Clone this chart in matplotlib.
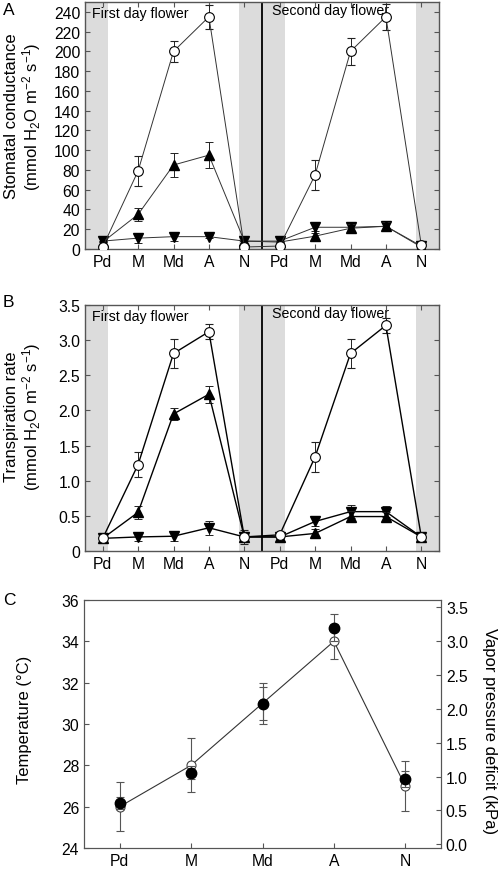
import numpy as np
import matplotlib
matplotlib.use("Agg")
import matplotlib.pyplot as plt

plt.rcParams['font.family'] = ['Liberation Sans', 'DejaVu Sans']
plt.rcParams['mathtext.fontset'] = 'custom'
plt.rcParams['mathtext.rm'] = 'Liberation Sans'
plt.rcParams['mathtext.it'] = 'Liberation Sans:italic'
plt.rcParams['mathtext.bf'] = 'Liberation Sans:bold'
plt.rcParams['mathtext.default'] = 'regular'

# categories (two days of flowering)
times = ['Pd', 'M', 'Md', 'A', 'N', 'Pd', 'M', 'Md', 'A', 'N']

# A: stomatal conductance (mmol H2O m-2 s-1)
gs_open = [2, 79, 200, 235, 2, 3, 75, 200, 235, 4]
gs_open_err = [0, 15, 10.5, 12, 0, 0, 15, 14, 13, 0]
gs_up = [7, 35, 85, 95, 8, 7, 13, 21, 23, 2]
gs_up_err = [0, 7, 12, 13, 0, 0, 3, 4, 4, 0]
gs_down = [8, 11, 12.5, 12.5, 8, 8, 22, 22, 23, 3]
gs_down_err = [0, 5, 4, 1.5, 0, 0, 4, 4, 4, 0]

# B: transpiration rate (mmol H2O m-2 s-1)
tr_open = [0.18, 1.23, 2.81, 3.12, 0.2, 0.23, 1.34, 2.81, 3.21, 0.2]
tr_open_err = [0, 0.18, 0.21, 0.11, 0.1, 0, 0.21, 0.2, 0.11, 0]
tr_up = [0.18, 0.55, 1.95, 2.23, 0.2, 0.2, 0.25, 0.49, 0.49, 0.2]
tr_up_err = [0, 0.09, 0.09, 0.12, 0, 0, 0.06, 0.08, 0.07, 0]
tr_down = [0.18, 0.2, 0.21, 0.33, 0.2, 0.2, 0.42, 0.56, 0.56, 0.2]
tr_down_err = [0, 0.06, 0.07, 0.1, 0, 0, 0.07, 0.09, 0.08, 0]

# C: temperature and vapour pressure deficit
c_times = ['Pd', 'M', 'Md', 'A', 'N']
temp = [26.0, 28.0, 31.0, 34.0, 27.0]
temp_err = [1.2, 1.3, 1.0, 0.85, 1.2]
vpd = [0.61, 1.06, 2.08, 3.2, 0.96]
vpd_err = [0.09, 0.1, 0.25, 0.2, 0.12]

W, H = 498, 870
fig = plt.figure(figsize=(W / 100, H / 100), dpi=100)

def px_axes(l, t, r, b):
    return fig.add_axes([l / W, 1 - b / H, (r - l) / W, (b - t) / H])

spine_col = '#555555'
shade = '#dcdcdc'
tick_fs = 11.3
lab_fs = 12

def style(ax):
    for s in ax.spines.values():
        s.set_color(spine_col)
        s.set_linewidth(1.0)
    ax.tick_params(direction='in', length=3.5, width=0.8, color=spine_col,
                   labelsize=tick_fs, top=True, right=True)

def day_panel(ax, op, ope, up, upe, dn, dne, lw, lcol):
    x = np.arange(len(times))
    for lo, hi in [(-0.5, 0.14), (3.86, 5.14), (8.86, 9.5)]:
        ax.axvspan(lo, hi, color=shade, lw=0, zorder=0)
    ax.axvline(4.5, color='black', lw=1.3, zorder=1)
    ek = dict(elinewidth=0.7, capsize=2.8, capthick=0.7, ecolor='#222222')
    ax.errorbar(x, dn, yerr=dne, fmt='v-', color=lcol, lw=lw, ms=6.5,
                mfc='black', mec='black', zorder=3, **ek)
    ax.errorbar(x, up, yerr=upe, fmt='^-', color=lcol, lw=lw, ms=6.5,
                mfc='black', mec='black', zorder=4, **ek)
    ax.errorbar(x, op, yerr=ope, fmt='o-', color=lcol, lw=lw, ms=7,
                mfc='white', mec='black', mew=0.8, zorder=5, **ek)
    ax.set_xlim(-0.5, 9.5)
    ax.set_xticks(x)
    ax.set_xticklabels(times)
    ax.text(0.02, 0.985, 'First day flower', transform=ax.transAxes,
            ha='left', va='top', fontsize=10.2)
    ax.text(0.527, 0.995, 'Second day flower', transform=ax.transAxes,
            ha='left', va='top', fontsize=10.2)
    style(ax)

# Panel A
axA = px_axes(85, 3, 439, 250)
day_panel(axA, gs_open, gs_open_err, gs_up, gs_up_err, gs_down, gs_down_err,
          0.7, '#333333')
axA.set_ylim(0, 250)
axA.set_yticks(np.arange(0, 241, 20))
axA.set_ylabel('Stomatal conductance\n(mmol H$_2$O m$^{-2}$ s$^{-1}$)',
               fontsize=lab_fs, linespacing=1.05)
axA.yaxis.set_label_coords(-0.12, 0.54)

# Panel B
axB = px_axes(85, 306, 439, 552)
day_panel(axB, tr_open, tr_open_err, tr_up, tr_up_err, tr_down, tr_down_err,
          1.0, 'black')
axB.set_ylim(0, 3.5)
axB.set_yticks(np.arange(0, 3.51, 0.5))
axB.set_yticklabels(['0'] + ['%.1f' % v for v in np.arange(0.5, 3.51, 0.5)])
axB.set_ylabel('Transpiration rate\n(mmol H$_2$O m$^{-2}$ s$^{-1}$)',
               fontsize=lab_fs, linespacing=1.05)
axB.yaxis.set_label_coords(-0.12, 0.55)

# Panel C
axC = px_axes(84, 601, 441, 849)
xc = np.arange(len(c_times))
axC.errorbar(xc, temp, yerr=temp_err, fmt='o-', color='#333333', lw=0.8,
             ms=6.5, mfc='white', mec='#444444', mew=0.8, ecolor='#555555',
             elinewidth=0.8, capsize=3, capthick=0.8, zorder=3)
axC.set_xlim(-0.5, 4.5)
axC.set_ylim(24, 36)
axC.set_xticks(xc)
axC.set_xticklabels(c_times)
axC.set_yticks(np.arange(24, 37, 2))
axC.set_ylabel('Temperature (\u00b0C)', fontsize=lab_fs)
axC.yaxis.set_label_coords(-0.146, 0.52)
for s in axC.spines.values():
    s.set_color(spine_col)
axC.tick_params(direction='in', length=3.5, width=0.8, color=spine_col,
                labelsize=tick_fs)

axV = axC.twinx()
axV.errorbar(xc, vpd, yerr=vpd_err, fmt='o', color='black', ms=7.5,
             ecolor='#555555', elinewidth=0.8, capsize=3, capthick=0.8)
axV.set_ylim(-0.056, 3.61)
axV.set_yticks(np.arange(0, 3.51, 0.5))
axV.set_yticklabels(['%.1f' % v for v in np.arange(0, 3.51, 0.5)])
axV.set_ylabel('Vapor pressure deficit (kPa)', fontsize=lab_fs, rotation=270,
               va='bottom')
axV.yaxis.set_label_coords(1.115, 0.477)
for s in axV.spines.values():
    s.set_color(spine_col)
axV.tick_params(direction='in', length=3.5, width=0.8, color=spine_col,
                labelsize=tick_fs)

# panel letters
for lab, yy in [('A', 3), ('B', 295), ('C', 593)]:
    fig.text(3 / W, 1 - yy / H, lab, fontsize=12.5, ha='left', va='top')

fig.savefig('out.png', dpi=100)
